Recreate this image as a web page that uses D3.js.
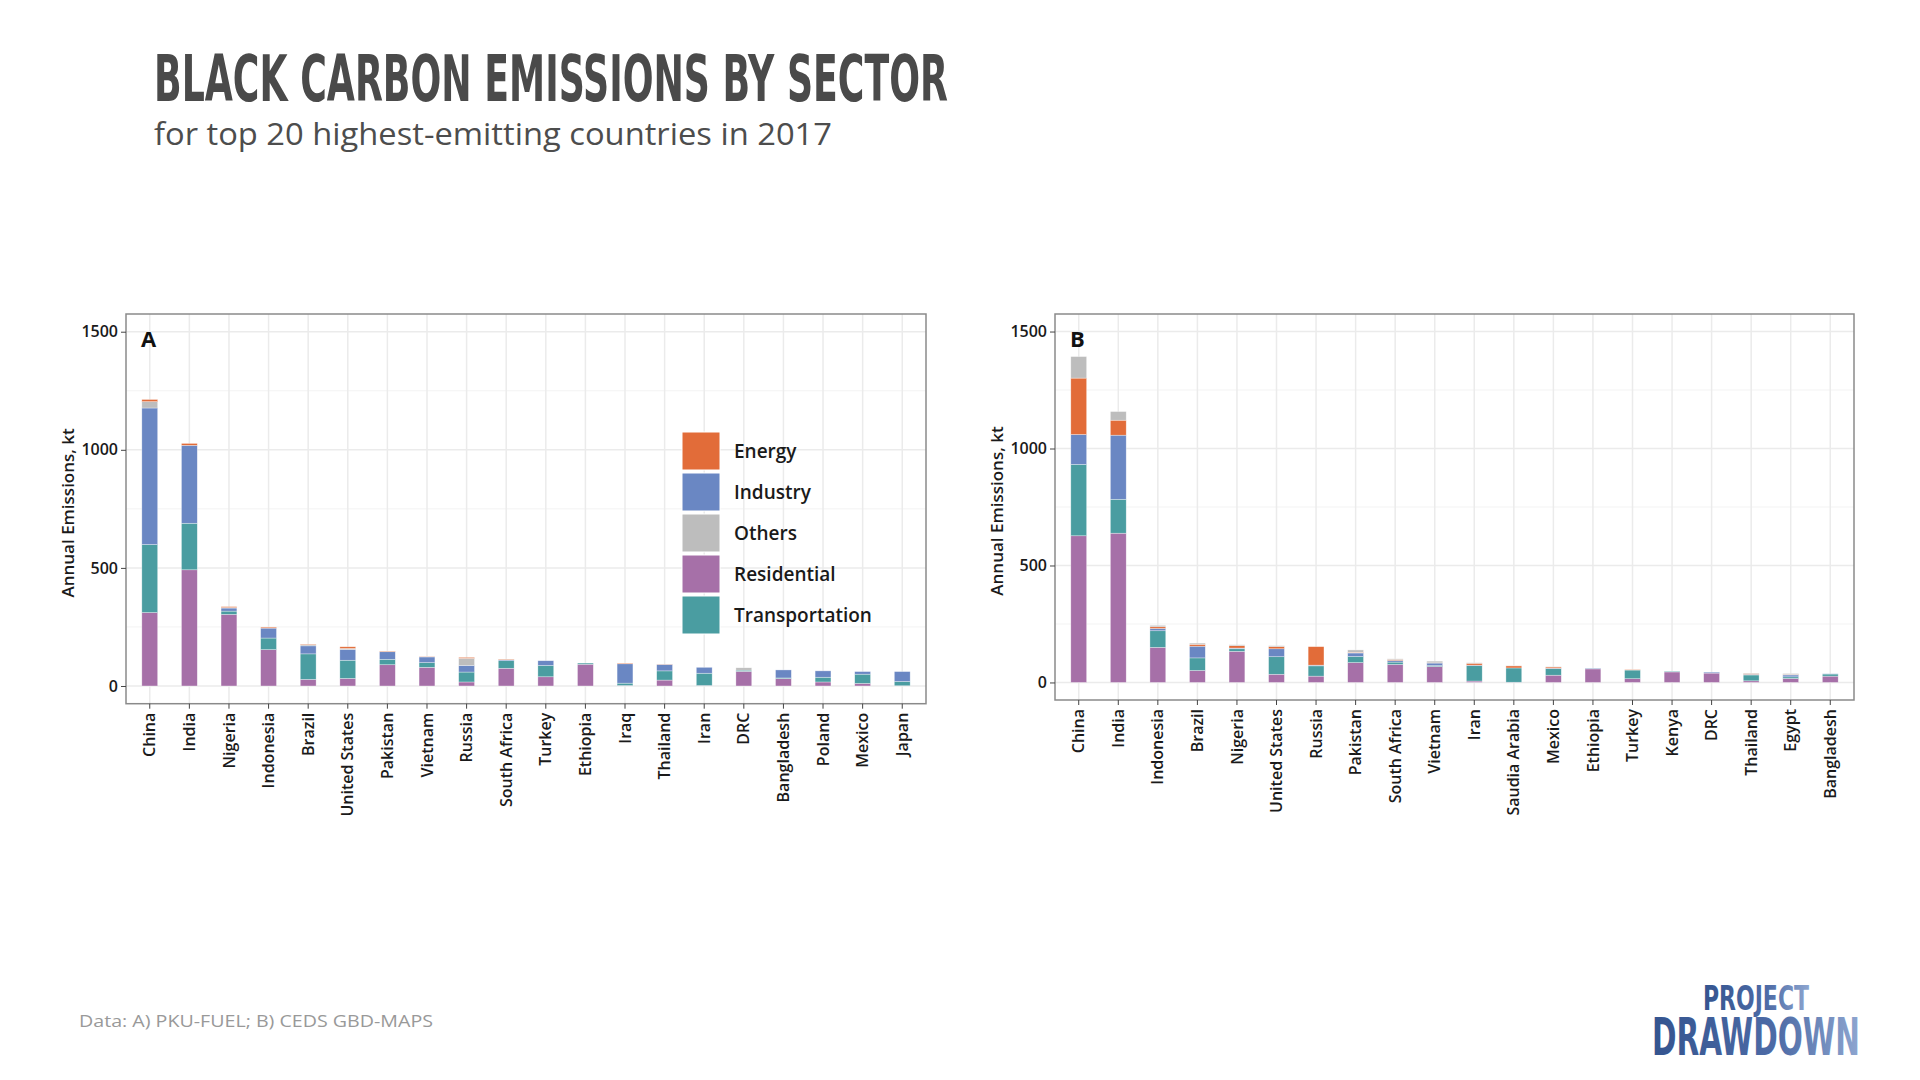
<!DOCTYPE html>
<html>
<head>
<meta charset="utf-8">
<script src="https://cdn.jsdelivr.net/npm/d3@7"></script>
<style>
    body { margin: 0; background: #fff; }
    #chart { width: 1920px; height: 1080px; }
    .tick text { font-family: "Open Sans", sans-serif; font-weight: 600; fill: #1a1a1a; }
</style>
</head>
<body>
<div id="chart"></div>
<script>

/*
DATA
*/

const sectors = ["Energy", "Industry", "Others", "Residential", "Transportation"];

const countriesA = ["China","India","Nigeria","Indonesia","Brazil","United States","Pakistan","Vietnam","Russia","South Africa",
    "Turkey","Ethiopia","Iraq","Thailand","Iran","DRC","Bangladesh","Poland","Mexico","Japan"];

const residentialA    = [311, 492, 303, 154,  28,  32,  90,  79,  17,  75,  39,  92,   2,  25,   2,  62,  31,  17,  11,   1];
const transportationA = [288, 197,  14,  49, 108,  77,  23,  20,  42,  32,  48,   5,  10,  39,  52,   5,   3,  20,  39,  18];
const industryA       = [578, 330,  13,  42,  34,  46,  32,  24,  28,   4,  20,   0,  82,  27,  25,   0,  34,  27,  11,  42];
const othersA         = [ 27,   0,   2,   0,   5,   4,   1,   1,  30,   1,   0,   0,   0,   0,   0,  10,   0,   0,   0,   0];
const energyA         = [  9,   8,   4,   4,   2,   7,   2,   1,   4,   2,   0,   0,   3,   1,   0,   0,   0,   0,   0,   0];

const countriesB = ["China","India","Indonesia","Brazil","Nigeria","United States","Russia","Pakistan","South Africa","Vietnam",
    "Iran","Saudia Arabia","Mexico","Ethiopia","Turkey","Kenya","DRC","Thailand","Egypt","Bangladesh"];

const residentialB    = [627, 638, 150,  51, 133,  35,  27,  85,  77,  68,   6,   1,  31,  58,  16,  45,  40,   7,  17,  27];
const transportationB = [305, 145,  71,  54,  11,  75,  44,  26,  10,   4,  66,  61,  28,   1,  37,   3,   0,  25,   7,   9];
const industryB       = [128, 274,  10,  50,   3,  34,   3,  15,   7,  11,   2,   0,   2,   2,   0,   0,   4,   3,   8,   1];
const energyB         = [241,  64,   7,   8,  10,   9,  79,   3,   4,   1,   8,   9,   5,   0,   2,   0,   0,   3,   2,   0];
const othersB         = [ 92,  37,   6,   5,   4,   4,   0,  10,   3,   7,   2,   1,   1,   0,   0,   0,   0,   2,   4,   0];

const yTicks = [0, 500, 1000, 1500];

/*
CREATE SVG CANVAS
*/
const width = 1920;
const height = 1080;

const svg = d3.select("#chart")
    .append("svg")
    .attr("width", width)
    .attr("height", height)
    .attr("viewBox", `0 0 ${width} ${height}`);

const fillScale = d3.scaleOrdinal()
    .domain(sectors)
    .range(["#E26C39", "#6A87C3", "#BDBDBD", "#A670A8", "#4A9DA1"]);

/*
TITLES
*/
svg.append("text")
    .attr("x", 154)
    .attr("y", 101)
    .attr("textLength", 794)
    .attr("lengthAdjust", "spacingAndGlyphs")
    .style("font-family", "'DejaVu Sans Condensed', 'Liberation Sans Narrow', sans-serif")
    .style("font-weight", "bold")
    .style("font-size", "64px")
    .attr("fill", "#4a4a4a")
    .text("BLACK CARBON EMISSIONS BY SECTOR");

svg.append("text")
    .attr("x", 154)
    .attr("y", 145)
    .attr("textLength", 678)
    .attr("lengthAdjust", "spacingAndGlyphs")
    .style("font-family", "'Open Sans', sans-serif")
    .style("font-size", "31px")
    .attr("fill", "#4d4d4d")
    .text("for top 20 highest-emitting countries in 2017");

/*
DRAW ONE PANEL
*/
function drawPanel(opts) {

    const rows = opts.countries.map(function(c, i) {
        const row = { country: c };
        sectors.forEach(function(s) { row[s] = opts.values[s][i]; });
        return row;
    });

    const stacked = d3.stack().keys(opts.order)(rows);

    const xScale = d3.scaleBand()
        .domain(opts.countries)
        .range([opts.left, opts.right])
        .paddingInner(0.6)
        .paddingOuter(0.4);

    const yScale = d3.scaleLinear()
        .domain([-75, 1575])
        .range([opts.bottom, opts.top]);

    const g = svg.append("g");

    // grid
    const minor = [250, 750, 1250];
    g.selectAll(".minor")
        .data(minor)
        .enter()
        .append("line")
            .attr("x1", opts.left).attr("x2", opts.right)
            .attr("y1", function(d) { return yScale(d); })
            .attr("y2", function(d) { return yScale(d); })
            .attr("stroke", "#f3f3f3")
            .attr("stroke-width", 1);

    g.selectAll(".major")
        .data(yTicks)
        .enter()
        .append("line")
            .attr("x1", opts.left).attr("x2", opts.right)
            .attr("y1", function(d) { return yScale(d); })
            .attr("y2", function(d) { return yScale(d); })
            .attr("stroke", "#ebebeb")
            .attr("stroke-width", 1.5);

    g.selectAll(".vgrid")
        .data(opts.countries)
        .enter()
        .append("line")
            .attr("x1", function(d) { return xScale(d) + xScale.bandwidth()/2; })
            .attr("x2", function(d) { return xScale(d) + xScale.bandwidth()/2; })
            .attr("y1", opts.top).attr("y2", opts.bottom)
            .attr("stroke", "#ebebeb")
            .attr("stroke-width", 1.5);

    // bars
    g.selectAll(".layer")
        .data(stacked)
        .enter()
        .append("g")
            .attr("fill", function(d) { return fillScale(d.key); })
        .selectAll("rect")
        .data(function(d) { return d.filter(function(v) { return v[1] - v[0] > 0; }); })
        .enter()
        .append("rect")
            .attr("x", function(d) { return xScale(d.data.country); })
            .attr("width", xScale.bandwidth())
            .attr("y", function(d) { return yScale(d[1]); })
            .attr("height", function(d) { return yScale(d[0]) - yScale(d[1]); })
            .attr("stroke", "#ffffff")
            .attr("stroke-opacity", 0.55)
            .attr("stroke-width", 0.6);

    // border
    g.append("rect")
        .attr("x", opts.left)
        .attr("y", opts.top)
        .attr("width", opts.right - opts.left)
        .attr("height", opts.bottom - opts.top)
        .attr("fill", "none")
        .attr("stroke", "#8a8a8a")
        .attr("stroke-width", 1.5);

    // axes
    const yAxis = g.append("g")
        .attr("transform", `translate(${opts.left},0)`)
        .call(d3.axisLeft(yScale).tickValues(yTicks).tickFormat(d3.format("d")).tickSize(5).tickPadding(3));
    yAxis.select(".domain").remove();
    yAxis.selectAll(".tick line").attr("stroke", "#444");
    yAxis.selectAll(".tick text").style("font-size", "16px");

    const xAxis = g.append("g")
        .attr("transform", `translate(0,${opts.bottom})`)
        .call(d3.axisBottom(xScale).tickSize(5).tickPadding(3));
    xAxis.select(".domain").remove();
    xAxis.selectAll(".tick line").attr("stroke", "#444");
    xAxis.selectAll(".tick text")
        .style("font-size", "16px")
        .attr("text-anchor", "end")
        .attr("transform", "rotate(-90)")
        .attr("x", -9)
        .attr("y", 0)
        .attr("dy", "0.35em");

    // axis label
    g.append("text")
        .attr("transform", `translate(${opts.labelX},${(opts.top + opts.bottom)/2 + 4}) rotate(-90)`)
        .attr("text-anchor", "middle")
        .attr("dy", "0.35em")
        .style("font-family", "'Open Sans', sans-serif")
        .style("font-weight", 600)
        .style("font-size", "17px")
        .attr("fill", "#1a1a1a")
        .text("Annual Emissions, kt");

    // panel tag
    g.append("text")
        .attr("x", opts.left + opts.tagDx)
        .attr("y", opts.top + 33)
        .style("font-family", "'Open Sans', sans-serif")
        .style("font-weight", "bold")
        .style("font-size", "22px")
        .attr("fill", "#111")
        .text(opts.tag);

    return g;
}

const panelA = drawPanel({
    countries: countriesA,
    values: { Energy: energyA, Industry: industryA, Others: othersA, Residential: residentialA, Transportation: transportationA },
    order: ["Residential", "Transportation", "Industry", "Others", "Energy"],
    left: 126, right: 926, top: 314, bottom: 703.7,
    labelX: 68, tag: "A", tagDx: 15
});

const panelB = drawPanel({
    countries: countriesB,
    values: { Energy: energyB, Industry: industryB, Others: othersB, Residential: residentialB, Transportation: transportationB },
    order: ["Residential", "Transportation", "Industry", "Energy", "Others"],
    left: 1055, right: 1854, top: 314, bottom: 700,
    labelX: 997, tag: "B", tagDx: 15
});

/*
LEGEND (inside panel A)
*/
sectors.forEach(function(s, i) {
    svg.append("rect")
        .attr("x", 682)
        .attr("y", 432 + i*41)
        .attr("width", 38)
        .attr("height", 38)
        .attr("fill", fillScale(s))
        .attr("stroke", "#ffffff")
        .attr("stroke-width", 1);

    svg.append("text")
        .attr("x", 734)
        .attr("y", 451 + i*41)
        .attr("dy", "0.35em")
        .style("font-family", "'Open Sans', sans-serif")
        .style("font-weight", 600)
        .style("font-size", "19px")
        .attr("fill", "#1a1a1a")
        .text(s);
});

/*
FOOTER
*/
svg.append("text")
    .attr("x", 79)
    .attr("y", 1027)
    .attr("textLength", 354)
    .attr("lengthAdjust", "spacingAndGlyphs")
    .style("font-family", "'Open Sans', sans-serif")
    .style("font-size", "17px")
    .attr("fill", "#999")
    .text("Data: A) PKU-FUEL; B) CEDS GBD-MAPS");

const grad = svg.append("defs")
    .append("linearGradient")
    .attr("id", "logoGrad")
    .attr("x1", "0%").attr("x2", "100%")
    .attr("y1", "0%").attr("y2", "0%");
grad.append("stop").attr("offset", "0%").attr("stop-color", "#34548f");
grad.append("stop").attr("offset", "60%").attr("stop-color", "#4d6ba6");
grad.append("stop").attr("offset", "100%").attr("stop-color", "#8ea6d0");

svg.append("text")
    .attr("x", 1703)
    .attr("y", 1010)
    .attr("textLength", 106)
    .attr("lengthAdjust", "spacingAndGlyphs")
    .style("font-family", "'DejaVu Sans Condensed', sans-serif")
    .style("font-weight", "bold")
    .style("font-size", "33px")
    .attr("fill", "url(#logoGrad)")
    .text("PROJECT");

svg.append("text")
    .attr("x", 1652)
    .attr("y", 1055)
    .attr("textLength", 208)
    .attr("lengthAdjust", "spacingAndGlyphs")
    .style("font-family", "'DejaVu Sans Condensed', sans-serif")
    .style("font-weight", "bold")
    .style("font-size", "52px")
    .attr("fill", "url(#logoGrad)")
    .text("DRAWDOWN");

</script>
</body>
</html>
